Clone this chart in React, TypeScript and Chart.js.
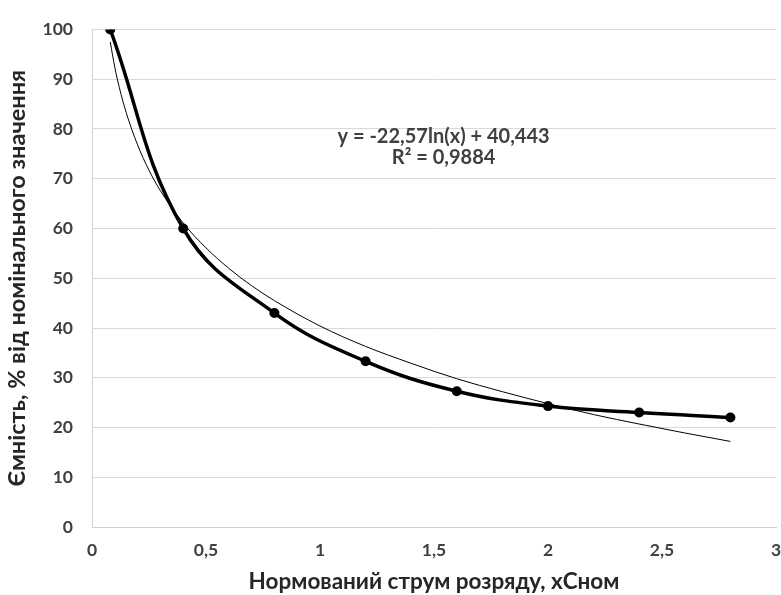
import React, { useEffect, useRef } from "react";
import { Chart, registerables } from "chart.js";

Chart.register(...registerables);

const currentX = [0.08, 0.4, 0.8, 1.2, 1.6, 2.0, 2.4, 2.8];
const capacityY = [100, 60, 43, 33.3, 27.3, 24.3, 23, 22];

const trendX = [0.08, 0.1, 0.12, 0.15, 0.2, 0.25, 0.3, 0.4, 0.5, 0.6, 0.7, 0.8, 1.0, 1.2, 1.4, 1.6, 1.8, 2.0, 2.2, 2.4, 2.6, 2.8];
const trendY = [97.5, 92.4, 88.3, 83.3, 76.8, 71.7, 67.6, 61.1, 56.1, 52.0, 48.5, 45.5, 40.4, 36.3, 32.9, 29.8, 27.2, 24.8, 22.6, 20.7, 18.9, 17.2];

const xTitle = "Нормований струм розряду, хСном";
const yTitle = "Ємність, % від номінального значення";
const equationLines = ["y = -22,57ln(x) + 40,443", "R² = 0,9884"];
const equationPos = { x: 1.542, y: 78.4 };

const FONT = "Lato, 'Open Sans', sans-serif";

const equationPlugin = {
  id: "equationLabel",
  afterDatasetsDraw(chart: any) {
    const { ctx, scales } = chart;
    const cx = scales.x.getPixelForValue(equationPos.x);
    const cy = scales.y.getPixelForValue(equationPos.y);
    ctx.save();
    ctx.font = `bold 20px ${FONT}`;
    ctx.textAlign = "center";
    ctx.textBaseline = "middle";
    const lh = 21;
    ctx.fillStyle = "#404040";
    equationLines.forEach((l, i) => ctx.fillText(l, cx, cy + i * lh));
    ctx.restore();
  },
};

export default function App() {
  const ref = useRef<HTMLCanvasElement | null>(null);
  useEffect(() => {
    document.body.style.margin = "0";
    const chart = new Chart(ref.current as HTMLCanvasElement, {
      type: "line",
      data: {
        datasets: [
          {
            label: "data",
            data: currentX.map((x, i) => ({ x, y: capacityY[i] })),
            borderColor: "#000000",
            backgroundColor: "#000000",
            borderWidth: 3.5,
            pointRadius: 5,
            pointBackgroundColor: "#000000",
            pointBorderWidth: 0,
            tension: 0.4,
          },
          {
            label: "trend",
            data: trendX.map((x, i) => ({ x, y: trendY[i] })),
            borderColor: "#000000",
            borderWidth: 1,
            pointRadius: 0,
            cubicInterpolationMode: "monotone",
          },
        ],
      },
      options: {
        animation: false,
        responsive: true,
        maintainAspectRatio: false,
        layout: { padding: { top: 14.5, right: 4, left: 0, bottom: 0 } },
        plugins: { legend: { display: false }, tooltip: { enabled: false } },
        scales: {
          x: {
            type: "linear",
            min: 0,
            max: 3,
            ticks: {
              stepSize: 0.5,
              color: "#404040",
              font: { family: FONT, size: 17.5, weight: "bold" },
              padding: 13,
              callback: (v: any) => String(v).replace(".", ","),
            },
            grid: { display: false, drawTicks: false },
            border: { display: true, color: "#d0d0d0", width: 1 },
            title: {
              display: true,
              text: xTitle,
              color: "#262626",
              font: { family: FONT, size: 22.5, weight: "bold" },
              padding: { top: 8, bottom: 0 },
            },
            afterFit: (s: any) => {
              s.paddingRight = 0;
              s.height = 68;
            },
          },
          y: {
            min: 0,
            max: 100,
            ticks: {
              stepSize: 10,
              color: "#404040",
              font: { family: FONT, size: 17.5, weight: "bold" },
              padding: 19,
            },
            grid: { color: "#d9d9d9", drawTicks: false },
            border: { display: true, color: "#d0d0d0", width: 1 },
            title: {
              display: true,
              text: yTitle,
              color: "#262626",
              font: { family: FONT, size: 23.5, weight: "bold" },
              padding: { top: 3, bottom: 0 },
            },
            afterFit: (s: any) => {
              s.width = 92;
            },
          },
        },
      },
      plugins: [equationPlugin],
    } as any);
    return () => chart.destroy();
  }, []);
  return (
    <div style={{ position: "absolute", left: 0, top: 0, width: 781, height: 595 }}>
      <canvas ref={ref} />
    </div>
  );
}
